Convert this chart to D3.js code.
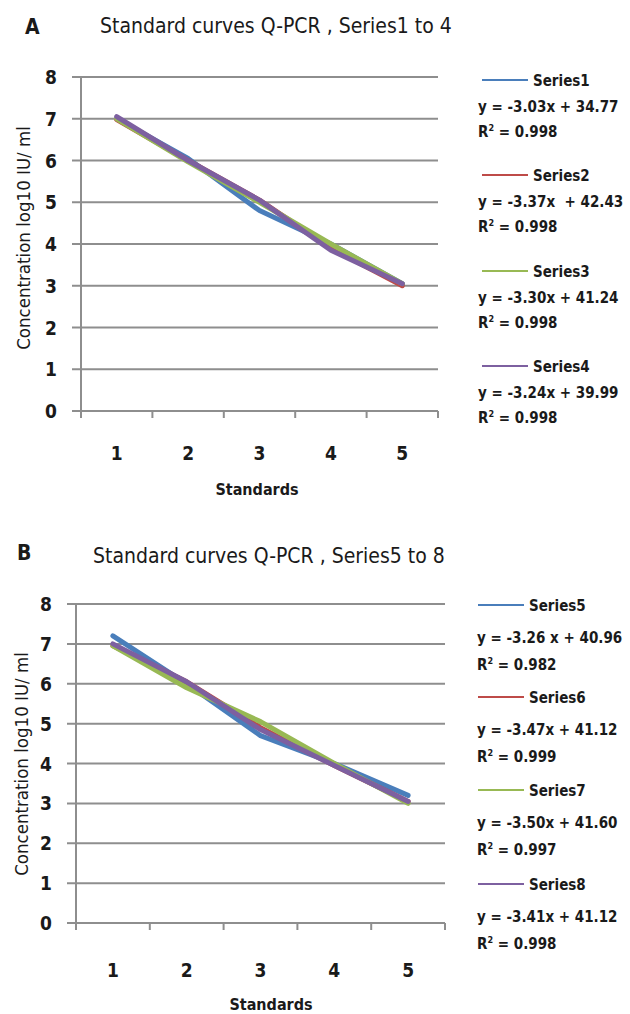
<!DOCTYPE html>
<html>
<head>
<meta charset="utf-8">
<script src="https://cdn.jsdelivr.net/npm/d3@7"></script>
<style>
  body { margin: 0; background: #fff; }
  svg text { font-family: "Liberation Sans Narrow", "DejaVu Sans Condensed", Lato, sans-serif; fill: #1a1a1a; white-space: pre; }
</style>
</head>
<body>
<div id="chart"></div>
<script>
// categories on the x axis
const standards = ["1", "2", "3", "4", "5"];
const yTicks = [0, 1, 2, 3, 4, 5, 6, 7, 8];

// panel A, log10 IU/ml per standard
const namesA = ["Series1", "Series2", "Series3", "Series4"];
const series1 = [7.00, 6.05, 4.80, 4.00, 3.05];
const series2 = [6.98, 6.00, 5.05, 3.90, 3.00];
const series3 = [7.00, 5.97, 5.00, 4.00, 3.05];
const series4 = [7.05, 6.00, 5.05, 3.85, 3.05];
const equationsA = ["y = -3.03x + 34.77", "y = -3.37x  + 42.43", "y = -3.30x + 41.24", "y = -3.24x + 39.99"];
const r2A = ["0.998", "0.998", "0.998", "0.998"];

// panel B
const namesB = ["Series5", "Series6", "Series7", "Series8"];
const series5 = [7.20, 6.00, 4.70, 4.00, 3.20];
const series6 = [6.95, 6.05, 4.90, 3.95, 3.05];
const series7 = [6.95, 5.90, 5.05, 4.00, 3.00];
const series8 = [7.00, 6.05, 4.85, 3.95, 3.05];
const equationsB = ["y = -3.26 x + 40.96", "y = -3.47x + 41.12", "y = -3.50x + 41.60", "y = -3.41x + 41.12"];
const r2B = ["0.982", "0.999", "0.997", "0.998"];

const colors = ["#4a7ebb", "#be4b48", "#98b954", "#7d60a0"];

const svg = d3.select("#chart").append("svg")
    .attr("width", 630)
    .attr("height", 1014);

// squeeze a text horizontally if it runs wider than maxW
function fitWidth(sel, maxW) {
    const w = sel.node().getComputedTextLength();
    if (w > maxW) sel.attr("textLength", maxW).attr("lengthAdjust", "spacingAndGlyphs");
}

function drawPanel(cfg) {
    const g = svg.append("g");

    // panel letter + title
    g.append("text").attr("x", cfg.letterX).attr("y", cfg.letterY)
        .attr("font-size", 21).attr("font-weight", "bold").text(cfg.letter);
    g.append("text").attr("x", cfg.titleX).attr("y", cfg.titleY)
        .attr("font-size", 21).text(cfg.title);

    const x = d3.scaleBand().domain(standards).range([cfg.left, cfg.right]);
    const y = d3.scaleLinear().domain([0, 8]).range([cfg.bottom, cfg.top]);

    // gridlines with the little tick stubs on the left
    g.selectAll(".grid").data(yTicks).enter().append("line")
        .attr("x1", cfg.left - 9).attr("x2", cfg.right)
        .attr("y1", d => y(d)).attr("y2", d => y(d))
        .attr("stroke", "#8e8e8e").attr("stroke-width", 2);

    // y axis
    g.append("line")
        .attr("x1", cfg.left).attr("x2", cfg.left)
        .attr("y1", cfg.top).attr("y2", cfg.bottom + 7)
        .attr("stroke", "#8e8e8e").attr("stroke-width", 2);

    // x tick marks at band edges
    const edges = standards.map(d => x(d)).concat([cfg.right]);
    g.selectAll(".xtick").data(edges).enter().append("line")
        .attr("x1", d => d).attr("x2", d => d)
        .attr("y1", cfg.bottom).attr("y2", cfg.bottom + 7)
        .attr("stroke", "#8e8e8e").attr("stroke-width", 2);

    g.selectAll(".ylab").data(yTicks).enter().append("text")
        .attr("x", cfg.left - 24).attr("y", d => y(d) + 7)
        .attr("text-anchor", "end").attr("font-size", 19).attr("font-weight", "bold")
        .text(d => d);

    g.selectAll(".xlab").data(standards).enter().append("text")
        .attr("x", d => x(d) + x.bandwidth() / 2).attr("y", cfg.bottom + cfg.xLabOff)
        .attr("text-anchor", "middle").attr("font-size", 19).attr("font-weight", "bold")
        .text(d => d);

    g.append("text").attr("x", cfg.xTitleX).attr("y", cfg.xTitleY)
        .attr("text-anchor", "middle").attr("font-size", 16).attr("font-weight", "bold")
        .text("Standards");

    g.append("text")
        .attr("transform", `translate(${cfg.yTitleX},${cfg.yTitleY}) rotate(-90)`)
        .attr("text-anchor", "middle").attr("font-size", 18.5).attr("fill", "#3a2a22")
        .text("Concentration log10 IU/ ml");

    // series lines
    const line = d3.line()
        .x((d, i) => x(standards[i]) + x.bandwidth() / 2)
        .y(d => y(d));

    g.selectAll(".series").data(cfg.series).enter().append("path")
        .attr("d", d => line(d))
        .attr("fill", "none")
        .attr("stroke", (d, i) => colors[i])
        .attr("stroke-width", 5)
        .attr("stroke-linecap", "round")
        .attr("stroke-linejoin", "round");

    // legend with trendline equations
    cfg.names.forEach((name, i) => {
        const ly = cfg.legendY[i];
        g.append("line")
            .attr("x1", cfg.legendX).attr("x2", cfg.legendX + 46)
            .attr("y1", ly).attr("y2", ly)
            .attr("stroke", colors[i]).attr("stroke-width", 2);
        g.append("text").attr("x", cfg.legendX + 51).attr("y", ly + 6)
            .attr("font-size", 15).attr("font-weight", "bold").text(name);
        const eq = g.append("text").attr("x", cfg.eqX).attr("y", ly + cfg.eqOff + 6)
            .attr("font-size", 15).attr("font-weight", "bold").text(cfg.equations[i]);
        fitWidth(eq, 626 - cfg.eqX);
        const r = g.append("text").attr("x", cfg.eqX).attr("y", ly + cfg.r2Off + 6)
            .attr("font-size", 15).attr("font-weight", "bold");
        r.append("tspan").text("R");
        r.append("tspan").attr("font-size", 9).attr("dy", -6).text("2");
        r.append("tspan").attr("dy", 6).text(" = " + cfg.r2[i]);
    });
}

drawPanel({
    letter: "A", letterX: 25, letterY: 34,
    title: "Standard curves Q-PCR , Series1 to 4", titleX: 100, titleY: 33,
    left: 81, right: 438, top: 77, bottom: 411,
    xLabOff: 49, xTitleX: 257, xTitleY: 495,
    yTitleX: 30, yTitleY: 238,
    series: [series1, series2, series3, series4],
    names: namesA, equations: equationsA, r2: r2A,
    legendX: 482, eqX: 478, legendY: [80, 175, 271, 366], eqOff: 26, r2Off: 51
});

drawPanel({
    letter: "B", letterX: 17, letterY: 560,
    title: "Standard curves Q-PCR , Series5 to 8", titleX: 93, titleY: 563,
    left: 76, right: 445, top: 604, bottom: 923,
    xLabOff: 54, xTitleX: 271, xTitleY: 1010,
    yTitleX: 28, yTitleY: 764,
    series: [series5, series6, series7, series8],
    names: namesB, equations: equationsB, r2: r2B,
    legendX: 478, eqX: 477, legendY: [605, 697, 790, 884], eqOff: 32, r2Off: 59
});
</script>
</body>
</html>
